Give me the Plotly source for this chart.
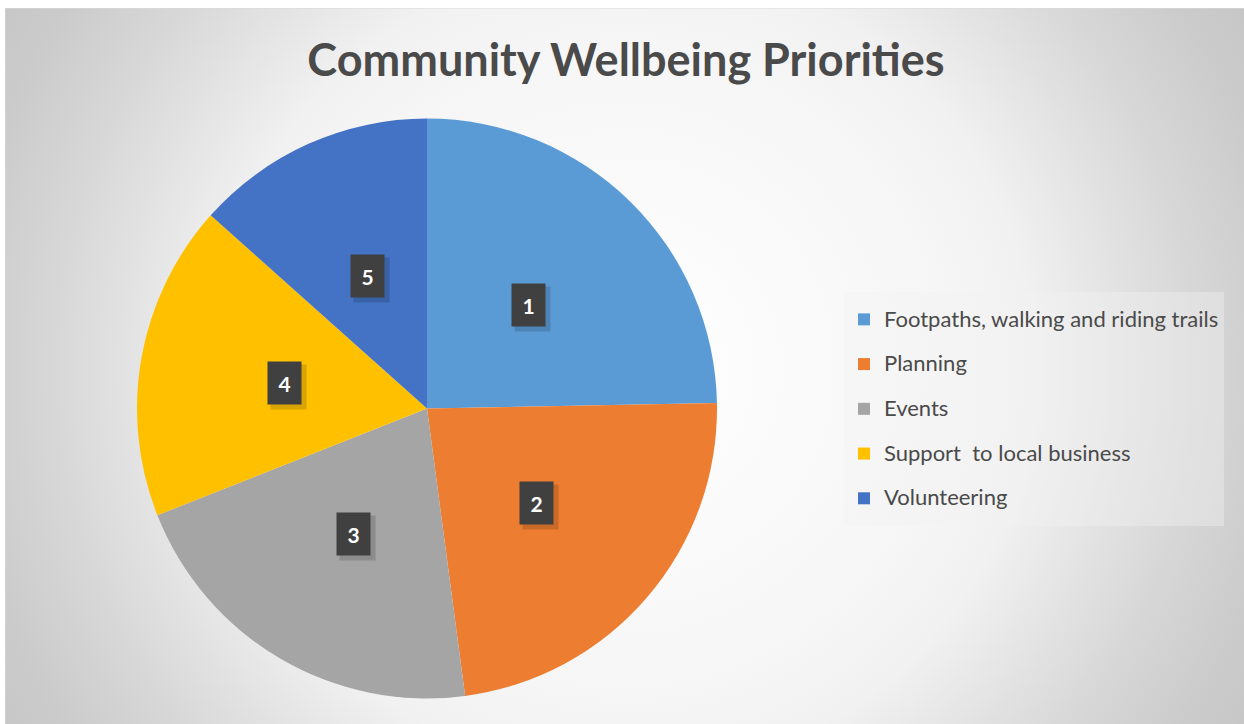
import base64
import math
import plotly.graph_objects as go

# Priority shares (percent of responses) and their ranking labels
categories = [
    "Footpaths, walking and riding trails",
    "Planning",
    "Events",
    "Support\u00a0 to local business",
    "Volunteering",
]
shares = [24.7, 23.2, 21.1, 17.6, 13.4]
ranks = ["1", "2", "3", "4", "5"]
colors = ["#5B9BD5", "#ED7D31", "#A5A5A5", "#FFC000", "#4472C4"]

W, H = 1244, 724

# Pie placement in pixels
PIE_CX, PIE_CY, PIE_R = 427, 408.5, 290


def px_x(x):
    return x / W


def px_y(y):
    return 1 - y / H


# Soft radial backdrop behind the whole chart area
AREA_X0, AREA_Y0 = 5, 8
AREA_W, AREA_H = W - AREA_X0 + 4, H - AREA_Y0 + 4
svg = f"""<svg xmlns='http://www.w3.org/2000/svg' width='{AREA_W}' height='{AREA_H}'>
<defs><radialGradient id='g' gradientUnits='userSpaceOnUse' cx='619' cy='360' r='715'>
<stop offset='0' stop-color='#ffffff'/>
<stop offset='0.45' stop-color='#f6f6f6'/>
<stop offset='0.57' stop-color='#f1f1f1'/>
<stop offset='0.80' stop-color='#d7d7d7'/>
<stop offset='0.93' stop-color='#cbcbcb'/>
<stop offset='1' stop-color='#c7c7c7'/>
</radialGradient></defs>
<rect x='0' y='0' width='{AREA_W}' height='{AREA_H}' fill='url(#g)' stroke='#d9d9d9' stroke-width='1'/>
</svg>"""
bg_uri = "data:image/svg+xml;base64," + base64.b64encode(svg.encode()).decode()

# Legend entries: a padded line above and below each name for roomy rows
legend_text = [
    f"\u00a0<br><span style='font-size:22px;baseline-shift:-3px'>{c}</span><br>\u00a0"
    for c in categories
]

fig = go.Figure()
fig.add_trace(
    go.Pie(
        labels=legend_text,
        values=shares,
        sort=False,
        direction="clockwise",
        rotation=0,
        textinfo="none",
        hoverinfo="skip",
        marker=dict(colors=colors, line=dict(width=0)),
        domain=dict(
            x=[px_x(PIE_CX - PIE_R), px_x(PIE_CX + PIE_R)],
            y=[px_y(PIE_CY + PIE_R), px_y(PIE_CY - PIE_R)],
        ),
    )
)

# Rank badges at the middle of each slice
annotations = []
total = sum(shares)
cum = 0.0
for rank, v in zip(ranks, shares):
    theta = 2 * math.pi * (cum + v / 2) / total
    cum += v
    bx = PIE_CX + 0.5 * PIE_R * math.sin(theta)
    by = PIE_CY - 0.5 * PIE_R * math.cos(theta)
    annotations.append(
        dict(
            x=px_x(bx + 4), y=px_y(by + 4), xref="paper", yref="paper",
            text=" ", showarrow=False, width=33, height=42,
            bgcolor="rgba(0,0,0,0.15)", xanchor="center", yanchor="middle",
        )
    )
    annotations.append(
        dict(
            x=px_x(bx), y=px_y(by), xref="paper", yref="paper",
            text=f"<b>{rank}</b>", showarrow=False, width=31, height=40,
            bgcolor="#404040", xanchor="center", yanchor="middle",
            font=dict(family="Lato", size=21, color="#ffffff"),
        )
    )

fig.update_layout(
    width=W,
    height=H,
    margin=dict(l=0, r=0, t=0, b=0),
    paper_bgcolor="#ffffff",
    title=dict(
        text="<b>Community Wellbeing Priorities</b>",
        x=626 / W, y=px_y(60), xanchor="center", yanchor="middle",
        font=dict(family="Lato", size=45, color="#4a4a4a"),
    ),
    showlegend=True,
    legend=dict(
        x=px_x(844), y=px_y(292), xanchor="left", yanchor="top",
        bgcolor="rgba(242,242,242,0.39)",
        borderwidth=0,
        valign="middle",
        font=dict(family="Lato", size=10.7, color="#4a4a4a"),
    ),
    images=[
        dict(
            source=bg_uri, xref="paper", yref="paper",
            x=px_x(AREA_X0), y=px_y(AREA_Y0), sizex=AREA_W / W, sizey=AREA_H / H,
            xanchor="left", yanchor="top", sizing="stretch", layer="below",
        )
    ],
    annotations=annotations,
)

fig.write_html("out.html")
